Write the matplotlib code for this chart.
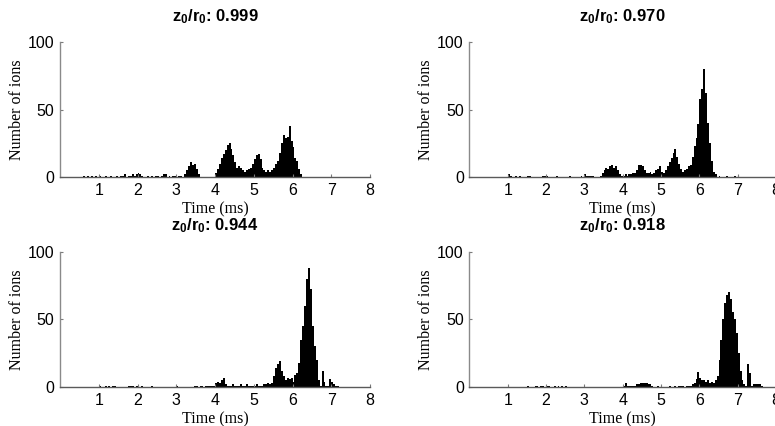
import numpy as np
import matplotlib
matplotlib.use("Agg")
import matplotlib.pyplot as plt

plt.rcParams['mathtext.fontset'] = 'custom'
plt.rcParams['mathtext.bf'] = 'Liberation Sans:bold'
plt.rcParams['mathtext.rm'] = 'Liberation Sans'
plt.rcParams['mathtext.it'] = 'Liberation Sans:italic'

BIN = 0.05  # ms

# ---- data: counts per 0.05 ms bin, starting at the given time ----
titles = ["0.999", "0.970", "0.944", "0.918"]

start_a = 0.60
counts_a = [1, 0, 1, 0, 1, 0, 1, 0, 1, 0,
            0, 1, 0, 0, 1, 0, 0, 1, 0, 1,
            1, 2, 0, 1, 1, 2, 1, 2, 3, 2,
            1, 0, 0, 1, 0, 1, 0, 1, 1, 0,
            1, 2, 2, 0, 1, 0, 1, 1, 0, 1,
            1, 0, 2, 5, 8, 11, 9, 10, 6, 2,
            0, 0, 0, 0, 0, 0, 0, 0, 3, 6,
            10, 14, 17, 20, 24, 25, 21, 16, 11, 7,
            8, 7, 5, 4, 5, 6, 7, 10, 13, 16,
            17, 13, 7, 5, 4, 5, 4, 5, 7, 10,
            12, 18, 25, 31, 29, 30, 38, 27, 22, 14,
            12, 6, 2]

start_b = 0.95
counts_b = [0, 2, 1, 0, 0, 1, 0, 1, 0, 0,
            0, 1, 1, 0, 0, 0, 0, 0, 0, 1,
            1, 1, 0, 0, 0, 0, 1, 0, 0, 0,
            0, 0, 0, 1, 0, 0, 0, 0, 0, 1,
            0, 2, 1, 1, 1, 1, 0, 0, 0, 1,
            3, 5, 7, 6, 8, 9, 7, 8, 5, 2,
            1, 1, 2, 1, 2, 2, 3, 3, 5, 9,
            9, 8, 5, 3, 3, 4, 2, 3, 5, 6,
            8, 4, 3, 5, 8, 11, 14, 18, 21, 15,
            10, 6, 4, 5, 6, 8, 9, 15, 23, 29,
            39, 58, 65, 80, 62, 40, 25, 12, 4, 2,
            0, 1, 0, 0, 0, 1, 0, 0, 0, 1]

start_c = 0.95
counts_c = [0, 1, 0, 0, 1, 0, 1, 0, 1, 1,
            0, 0, 0, 0, 0, 0, 1, 1, 1, 0,
            1, 1, 0, 1, 0, 0, 0, 0, 1, 0,
            0, 0, 0, 0, 0, 0, 0, 0, 0, 0,
            0, 1, 0, 0, 0, 0, 0, 0, 0, 0,
            1, 1, 0, 1, 1, 0, 1, 1, 1, 1,
            1, 3, 4, 3, 5, 7, 2, 1, 1, 1,
            2, 1, 1, 1, 2, 1, 1, 2, 1, 1,
            1, 1, 2, 1, 1, 1, 2, 2, 3, 2,
            3, 8, 14, 17, 19, 12, 8, 5, 7, 6,
            7, 4, 9, 10, 18, 35, 45, 60, 80, 88,
            72, 45, 30, 20, 5, 1, 12, 4, 1, 1,
            6, 4, 2, 1, 1]

start_d = 1.50
counts_d = [1, 0, 0, 0, 1, 1, 0, 1, 1, 0,
            1, 1, 0, 0, 1, 0, 1, 0, 1, 0,
            1, 0, 0, 0, 0, 0, 0, 0, 0, 0,
            0, 0, 0, 0, 0, 0, 0, 0, 0, 0,
            0, 0, 0, 0, 0, 0, 0, 0, 0, 0,
            1, 3, 1, 1, 1, 1, 1, 2, 2, 3,
            3, 3, 3, 2, 2, 1, 0, 0, 1, 0,
            0, 0, 0, 0, 1, 0, 0, 1, 0, 1,
            1, 1, 0, 1, 1, 1, 2, 3, 6, 11,
            7, 5, 5, 4, 5, 3, 4, 3, 5, 8,
            20, 35, 50, 62, 68, 70, 65, 55, 50, 40,
            25, 12, 5, 2, 1, 17, 10, 1, 2, 2,
            2, 2, 1]

starts = [start_a, start_b, start_c, start_d]
series = [counts_a, counts_b, counts_c, counts_d]

x_ticks = [1, 2, 3, 4, 5, 6, 7, 8]
y_ticks = [0, 50, 100]

# ---- layout (pixels) ----
W, H = 775, 426
fig = plt.figure(figsize=(W / 100, H / 100), dpi=100)
boxes = [(60, 42, 310, 135), (469.4, 42, 306.6, 135),
         (60, 251.5, 310, 135.5), (469.4, 251.5, 306.6, 135.5)]

for (l, t, w, h), st, cnt, ttl in zip(boxes, starts, series, titles):
    ax = fig.add_axes([l / W, 1 - (t + h) / H, w / W, h / H])
    cnt = np.asarray(cnt, dtype=float)
    edges = st + BIN * np.arange(len(cnt) + 1)
    ax.stairs(cnt, edges, fill=True, color='black', lw=0)
    ax.set_xlim(0, 8)
    ax.set_ylim(0, 100)
    ax.set_xticks(x_ticks)
    ax.set_yticks(y_ticks)
    for s in ('top', 'right'):
        ax.spines[s].set_visible(False)
    ax.spines['left'].set_color('#8a8a8a')
    ax.spines['bottom'].set_color('#5a5a5a')
    ax.spines['left'].set_linewidth(1.0)
    ax.spines['bottom'].set_linewidth(1.0)
    ax.tick_params(direction='in', length=2.5, width=0.8, color='#7a7a7a',
                   labelsize=11.5, pad=4)
    for lab in ax.get_xticklabels() + ax.get_yticklabels():
        lab.set_fontfamily('Liberation Sans')
    ax.set_xlabel('Time (ms)', fontfamily='Liberation Serif', fontsize=11.5)
    ax.set_ylabel('Number of ions', fontfamily='Liberation Serif', fontsize=11.5)
    ax.xaxis.set_label_coords(0.5, -24 / h)
    ax.xaxis.label.set_va('top')
    ax.yaxis.set_label_coords(-35 / w, 0.5)
    ax.set_title(r'$\mathbf{z_0/r_0}$: ' + ttl, fontfamily='Liberation Sans',
                 fontweight='bold', fontsize=12, pad=15)

fig.savefig('out.png', dpi=100)
